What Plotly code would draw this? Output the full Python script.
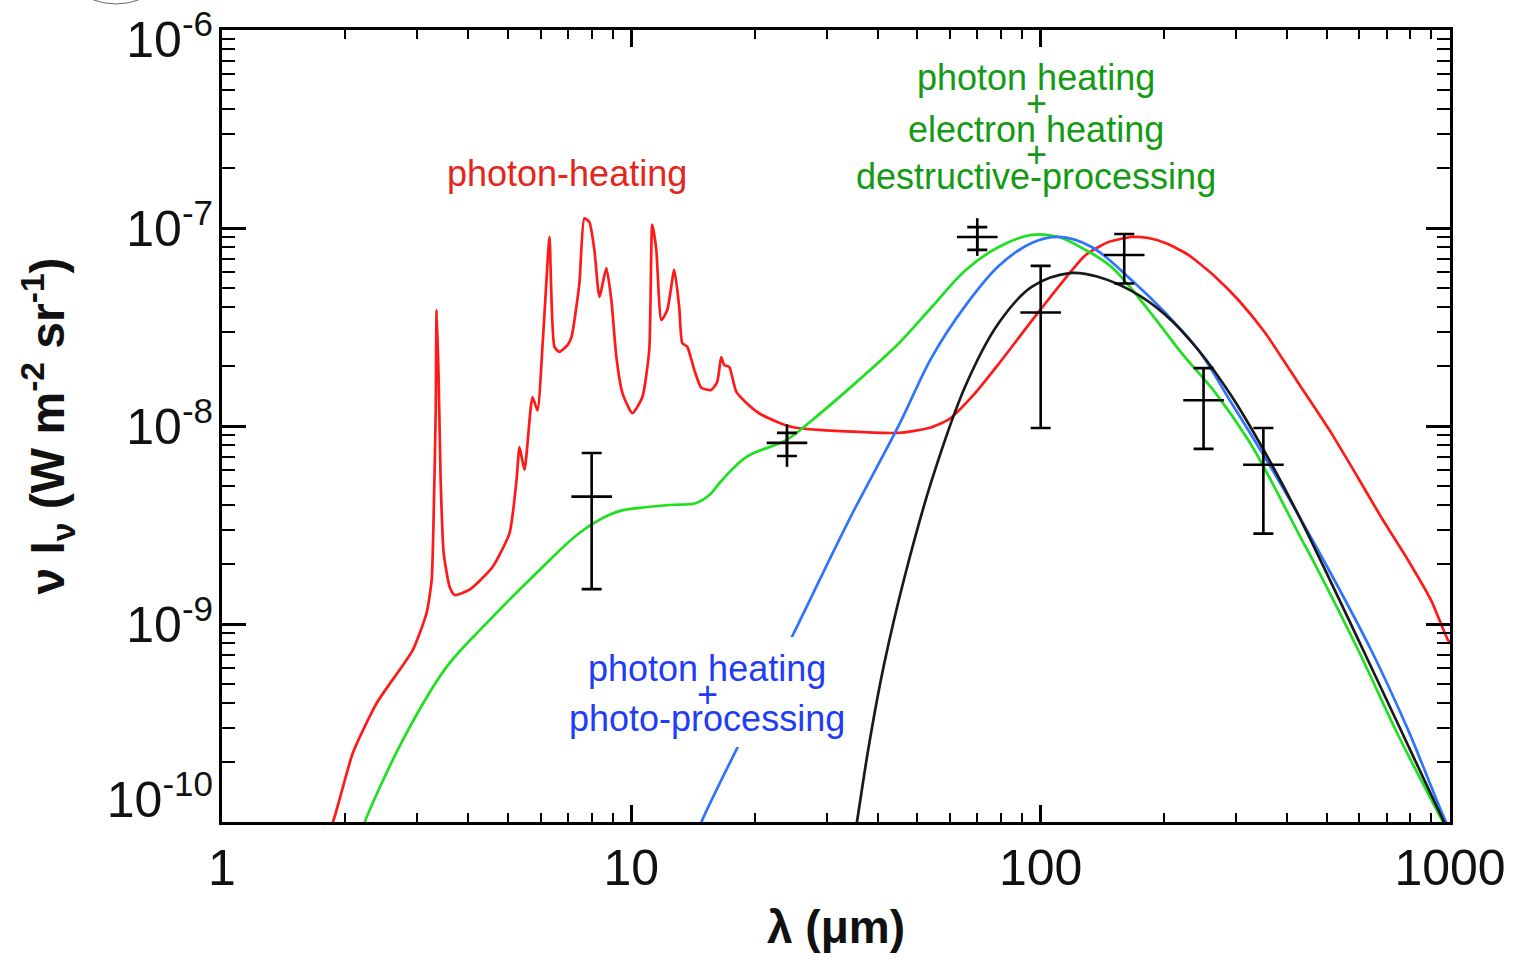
import plotly.graph_objects as go

# ---------------- model spectra: wavelength (µm) and nu*I_nu (W m^-2 sr^-1) ----------------
# photon heating only (with PAH band emission)
lam_red = [1.80, 1.866, 2.087, 2.388, 2.924, 3.162, 3.253, 3.290, 3.327, 3.345, 3.383, 3.421,
           3.479, 3.598, 3.701, 4.026, 4.581, 5.040, 5.243, 5.332, 5.483, 5.735, 5.898, 6.066,
           6.204, 6.310, 6.490, 6.675, 6.983, 7.141, 7.467, 7.679, 7.898, 8.124, 8.356, 8.690,
           8.937, 9.192, 9.507, 10.06, 10.64, 11.06, 11.25, 11.51, 11.84, 12.24, 12.73, 13.09,
           13.32, 13.70, 14.25, 14.82, 15.67, 16.21, 16.58, 16.86, 17.34, 18.04, 19.08, 20.52,
           22.96, 24.70, 28.74, 35.98, 45.05, 53.33, 59.66, 68.64, 78.98, 98.88, 128.8, 146.5,
           166.7, 183.4, 201.8, 229.6, 267.2, 304.1, 353.8, 426.0, 512.6, 596.6,
           678.6, 789.9, 898.8, 988.8, 1010.0]
I_red = [8.8e-11, 1.0e-10, 2.23e-10, 3.99e-10, 7.39e-10, 1.14e-9, 1.67e-9, 3.64e-9, 1.16e-8,
         3.85e-8, 1.71e-8, 5.34e-9, 2.29e-9, 1.54e-9, 1.40e-9, 1.49e-9, 1.94e-9, 2.88e-9,
         5.34e-9, 7.83e-9, 6.00e-9, 1.40e-8, 1.20e-8, 2.51e-8, 5.46e-8, 9.01e-8, 2.51e-8,
         2.37e-8, 2.56e-8, 2.81e-8, 5.27e-8, 1.12e-7, 1.07e-7, 7.74e-8, 4.49e-8, 6.28e-8,
         4.33e-8, 2.23e-8, 1.47e-8, 1.16e-8, 1.40e-8, 2.42e-8, 1.04e-7, 7.74e-8, 3.43e-8,
         3.85e-8, 6.14e-8, 3.99e-8, 2.62e-8, 2.51e-8, 1.92e-8, 1.56e-8, 1.52e-8, 1.67e-8,
         2.23e-8, 2.03e-8, 1.99e-8, 1.49e-8, 1.31e-8, 1.16e-8, 1.04e-8, 9.89e-9, 9.55e-9,
         9.33e-9, 9.23e-9, 9.77e-9, 1.08e-8, 1.44e-8, 2.06e-8, 3.77e-8, 7.31e-8, 8.49e-8,
         9.01e-8, 8.90e-8, 8.40e-8, 7.31e-8, 5.66e-8, 4.33e-8, 2.95e-8,
         1.65e-8, 9.23e-9, 5.46e-9, 3.47e-9, 2.10e-9, 1.32e-9, 8.30e-10, 7.9e-10]

# photon heating + electron heating + destructive processing
lam_green = [2.20, 2.233, 2.764, 3.538, 4.430, 5.865, 7.467, 8.837, 9.614, 10.46, 12.38, 14.41,
             15.50, 16.67, 19.08, 23.88, 27.64, 35.98, 45.05, 54.22, 65.64, 78.98, 95.07,
             110.6, 128.8, 149.0, 183.4, 220.8, 267.2, 321.5, 353.8, 426.0, 468.6, 596.6,
             746.7, 961.3, 1046.0]
I_green = [9.0e-11, 1.0e-10, 2.59e-10, 6.07e-10, 1.01e-9, 1.81e-9, 2.88e-9, 3.56e-9, 3.77e-9,
           3.86e-9, 3.99e-9, 4.08e-9, 4.48e-9, 5.34e-9, 6.97e-9, 8.49e-9, 1.07e-8, 1.71e-8,
           2.62e-8, 3.99e-8, 6.14e-8, 8.02e-8, 9.23e-8, 9.01e-8, 7.74e-8, 6.35e-8, 3.85e-8,
           2.34e-8, 1.47e-8, 8.49e-9, 6.00e-9, 2.88e-9, 1.99e-9, 7.39e-10, 2.75e-10, 1.0e-10,
           7.2e-11]

# photon heating + photo-processing
lam_blue = [14.6, 14.90, 19.40, 25.69, 34.02, 45.05, 54.22, 65.64, 78.98, 95.07,
            110.6, 133.2, 166.7, 201.8, 242.8, 292.3, 353.8, 426.0, 495.6, 641.7, 789.9,
            977.7, 1046.0]
I_blue = [9.0e-11, 1.02e-10, 3.13e-10, 1.02e-9, 3.35e-9, 1.01e-8, 2.23e-8, 4.08e-8, 6.43e-8,
          8.40e-8, 9.01e-8, 8.02e-8, 5.46e-8, 3.72e-8, 2.42e-8, 1.31e-8,
          6.89e-9, 3.56e-9, 2.03e-9, 7.39e-10, 2.92e-10, 1.0e-10, 7.7e-11]

# large grains only
lam_black = [34.40, 35.58, 38.07, 41.41, 46.85, 54.22, 65.64, 78.98, 95.07, 119.0, 138.5,
             166.7, 201.8, 242.8, 292.3, 353.8, 426.0, 613.5, 956.1, 1015.0]
I_black = [6.4e-11, 1.0e-10, 2.45e-10, 6.21e-10, 1.83e-9, 5.34e-9, 1.61e-8, 3.31e-8, 5.04e-8,
           5.93e-8, 5.66e-8, 4.81e-8, 3.64e-8, 2.42e-8, 1.42e-8, 7.31e-9, 3.56e-9, 7.39e-10,
           1.05e-10, 8.1e-11]

# ---------------- observed surface brightness with uncertainties ----------------
lam_obs = [8.0, 24.0, 70.0, 100.0, 160.0, 250.0, 350.0]
I_obs = [4.40e-9, 8.22e-9, 9.01e-8, 3.74e-8, 7.31e-8, 1.35e-8, 6.37e-9]
I_obs_hi = [7.31e-9, 9.23e-9, 1.01e-7, 6.44e-8, 9.33e-8, 1.96e-8, 9.77e-9]
I_obs_lo = [1.50e-9, 7.06e-9, 7.75e-8, 9.77e-9, 5.24e-8, 7.66e-9, 2.86e-9]
# total (calibration + statistical) range for the two short-band points
lam_obs_tot = [24.0, 70.0]
I_obs_tot = [8.22e-9, 9.01e-8]
I_obs_tot_hi = [1.02e-8, 1.12e-7]
I_obs_tot_lo = [6.22e-9, 7.23e-8]

# ---------------- axis ticks ----------------
x_tick_vals = [1, 10, 100, 1000]
x_tick_text = ["1", "10", "100", "1000"]
y_tick_vals = [1e-10, 1e-9, 1e-8, 1e-7, 1e-6]
y_tick_text = ["10<sup>-10</sup>", "10<sup>-9</sup>", "10<sup>-8</sup>",
               "10<sup>-7</sup>", "10<sup>-6</sup>"]
# label anchors: end labels nudged inside the frame
y_label_pos = [1.3e-10, 1e-9, 1e-8, 1e-7, 9.0e-7]

x_minor = [m * 10 ** d for d in range(0, 3) for m in range(2, 10)]
y_minor = [m * 10.0 ** d for d in range(-10, -6) for m in range(2, 10)]

FONT = "Liberation Sans"
LW = 2.7

fig = go.Figure()

def model(lam, val, color, smooth):
    fig.add_trace(go.Scatter(x=lam, y=val, mode="lines",
                             line=dict(color=color, width=LW, shape="spline",
                                       smoothing=smooth),
                             showlegend=False))

model(lam_red, I_red, "#ff1a1a", 0.55)
model(lam_green, I_green, "#1fe01f", 1.0)
model(lam_blue, I_blue, "#2f74ff", 1.0)
model(lam_black, I_black, "#1a1a1a", 1.0)

# observations: outer whiskers (no caps), then capped error bars with a horizontal dash
fig.add_trace(go.Scatter(
    x=lam_obs_tot, y=I_obs_tot, mode="markers", yaxis="y2",
    marker=dict(size=1, color="rgba(0,0,0,0)"),
    error_y=dict(type="data", symmetric=False,
                 array=[h - v for h, v in zip(I_obs_tot_hi, I_obs_tot)],
                 arrayminus=[v - l for v, l in zip(I_obs_tot, I_obs_tot_lo)],
                 color="black", thickness=2.6, width=0),
    showlegend=False))
fig.add_trace(go.Scatter(
    x=lam_obs, y=I_obs, mode="markers", yaxis="y2",
    marker=dict(symbol="line-ew", size=29, color="black",
                line=dict(color="black", width=2.6)),
    error_y=dict(type="data", symmetric=False,
                 array=[h - v for h, v in zip(I_obs_hi, I_obs)],
                 arrayminus=[v - l for v, l in zip(I_obs, I_obs_lo)],
                 color="black", thickness=2.6, width=10),
    showlegend=False))

axis_common = dict(showgrid=False, zeroline=False, color="black", automargin=False)

fig.update_layout(
    width=1519, height=957, autosize=False,
    margin=dict(l=222, r=69, t=30, b=135),
    paper_bgcolor="white", plot_bgcolor="white",
    font=dict(family=FONT, color="black"),
    xaxis=dict(
        type="log", range=[0, 3], autorange=False,
        tickmode="array", tickvals=x_tick_vals, ticktext=x_tick_text,
        ticks="inside", ticklen=17, tickwidth=2.6, tickcolor="black",
        minor=dict(tickmode="array", tickvals=x_minor, ticks="inside",
                   ticklen=9, tickwidth=2.2, tickcolor="black"),
        showline=True, linewidth=3, linecolor="black", mirror="ticks",
        tickfont=dict(family=FONT, size=50, color="#111111"),
        ticklabeloverflow="allow",
        title=dict(text="<b>λ (μm)</b>", font=dict(family=FONT, size=46, color="#111111"),
                   standoff=16),
        **axis_common),
    yaxis=dict(
        type="log", range=[-10, -6], autorange=False,
        tickmode="array", tickvals=y_tick_vals,
        ticks="inside", ticklen=24, tickwidth=2.6, tickcolor="black",
        minor=dict(tickmode="array", tickvals=y_minor, ticks="inside",
                   ticklen=13, tickwidth=2.2, tickcolor="black"),
        showticklabels=False,
        showline=True, linewidth=3, linecolor="black", mirror="ticks",
        **axis_common),
    yaxis2=dict(
        type="log", range=[-10, -6], autorange=False, overlaying="y", side="left",
        tickmode="array", tickvals=y_label_pos, ticktext=y_tick_text,
        ticks="", showline=False, ticklabelstandoff=8, ticklabeloverflow="allow",
        tickfont=dict(family=FONT, size=50, color="#111111"),
        title=dict(text="<b>ν I<sub>ν</sub> (W m<sup>-2</sup> sr<sup>-1</sup>)</b>",
                   font=dict(family=FONT, size=48, color="#111111"), standoff=26),
        **axis_common),
)

# white backing behind the blue caption
fig.add_shape(type="rect", xref="paper", yref="paper",
              x0=0.2793, x1=0.5098, y0=0.0947, y1=0.2336,
              fillcolor="white", line=dict(width=0), layer="above")

# panel marker partly cut off above the frame
fig.add_shape(type="circle", xref="paper", yref="paper",
              x0=-0.1393, x1=-0.0334, y0=1.0328, y1=1.197,
              line=dict(color="#666666", width=1))

def caption(text, x, y, color):
    fig.add_annotation(text=text, x=x, y=y, xref="paper", yref="paper",
                       showarrow=False, xanchor="center", yanchor="middle",
                       font=dict(family=FONT, size=36, color=color))

caption("photon-heating", 0.281, 0.8194, "#e3261b")

GREEN = "#149a14"
caption("photon heating", 0.6629, 0.9394, GREEN)
caption("+", 0.6629, 0.9066, GREEN)
caption("electron heating", 0.6629, 0.875, GREEN)
caption("+", 0.6629, 0.8422, GREEN)
caption("destructive-processing", 0.6629, 0.8144, GREEN)

BLUE = "#1f3df5"
caption("photon heating", 0.395, 0.1944, BLUE)
caption("+", 0.395, 0.1616, BLUE)
caption("photo-processing", 0.395, 0.1301, BLUE)

fig.write_html("out.html")
